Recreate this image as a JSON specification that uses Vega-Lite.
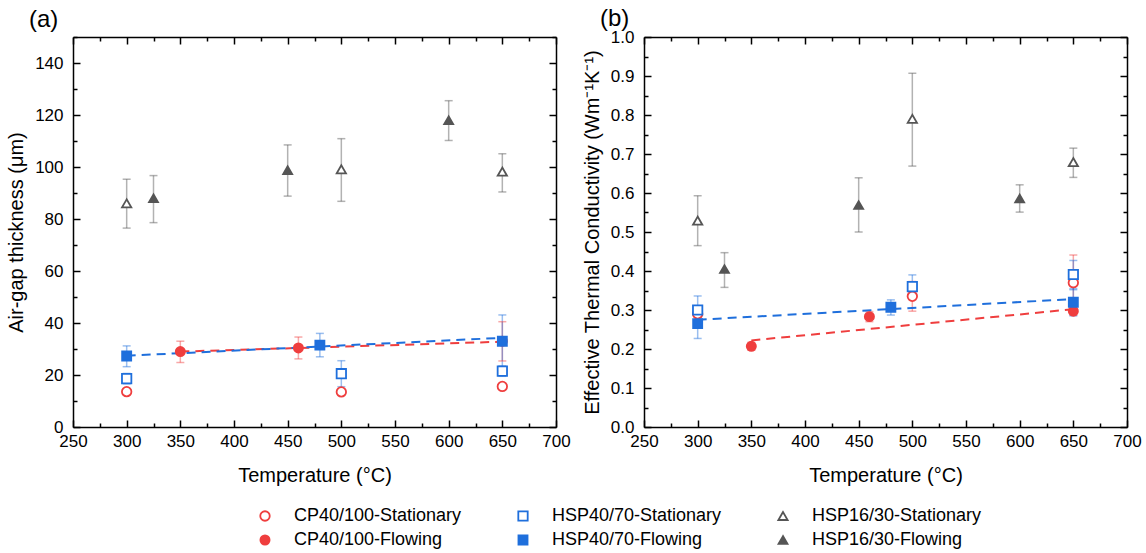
{
  "$schema": "https://vega.github.io/schema/vega-lite/v6.json",
  "padding": {"left": 6, "top": 7, "right": 5, "bottom": 2},
  "background": "white",
  "datasets": {
    "pts": [
      {"p": "a", "g": "CP40/100", "s": "CP40/100-Stationary", "t": 300, "v": 13.6, "lo": 12.6, "hi": 14.6},
      {"p": "a", "g": "CP40/100", "s": "CP40/100-Stationary", "t": 500, "v": 13.5, "lo": 12.5, "hi": 14.5},
      {"p": "a", "g": "CP40/100", "s": "CP40/100-Stationary", "t": 650, "v": 15.6, "lo": 14.6, "hi": 16.6},
      {"p": "a", "g": "CP40/100", "s": "CP40/100-Flowing", "t": 350, "v": 29.0, "lo": 24.8, "hi": 33.0},
      {"p": "a", "g": "CP40/100", "s": "CP40/100-Flowing", "t": 460, "v": 30.4, "lo": 26.2, "hi": 34.6},
      {"p": "a", "g": "CP40/100", "s": "CP40/100-Flowing", "t": 650, "v": 33.0, "lo": 25.4, "hi": 40.5},
      {"p": "a", "g": "HSP40/70", "s": "HSP40/70-Stationary", "t": 300, "v": 18.6, "lo": 16.6, "hi": 20.6},
      {"p": "a", "g": "HSP40/70", "s": "HSP40/70-Stationary", "t": 500, "v": 20.5, "lo": 15.5, "hi": 25.5},
      {"p": "a", "g": "HSP40/70", "s": "HSP40/70-Stationary", "t": 650, "v": 21.5, "lo": 19.5, "hi": 23.5},
      {"p": "a", "g": "HSP40/70", "s": "HSP40/70-Flowing", "t": 300, "v": 27.3, "lo": 23.2, "hi": 31.2},
      {"p": "a", "g": "HSP40/70", "s": "HSP40/70-Flowing", "t": 480, "v": 31.5, "lo": 27.0, "hi": 36.0},
      {"p": "a", "g": "HSP40/70", "s": "HSP40/70-Flowing", "t": 650, "v": 33.0, "lo": 23.0, "hi": 43.1},
      {"p": "a", "g": "HSP16/30", "s": "HSP16/30-Stationary", "t": 300, "v": 86.0, "lo": 76.5, "hi": 95.3},
      {"p": "a", "g": "HSP16/30", "s": "HSP16/30-Stationary", "t": 500, "v": 99.1, "lo": 86.8, "hi": 110.9},
      {"p": "a", "g": "HSP16/30", "s": "HSP16/30-Stationary", "t": 650, "v": 98.2, "lo": 90.4, "hi": 105.1},
      {"p": "a", "g": "HSP16/30", "s": "HSP16/30-Flowing", "t": 325, "v": 88.0, "lo": 78.6, "hi": 96.7},
      {"p": "a", "g": "HSP16/30", "s": "HSP16/30-Flowing", "t": 450, "v": 98.8, "lo": 88.8, "hi": 108.5},
      {"p": "a", "g": "HSP16/30", "s": "HSP16/30-Flowing", "t": 600, "v": 118.0, "lo": 110.2, "hi": 125.5},
      {"p": "b", "g": "CP40/100", "s": "CP40/100-Stationary", "t": 300, "v": 0.29, "lo": 0.27, "hi": 0.31},
      {"p": "b", "g": "CP40/100", "s": "CP40/100-Stationary", "t": 500, "v": 0.335, "lo": 0.297, "hi": 0.373},
      {"p": "b", "g": "CP40/100", "s": "CP40/100-Stationary", "t": 650, "v": 0.37, "lo": 0.30, "hi": 0.441},
      {"p": "b", "g": "CP40/100", "s": "CP40/100-Flowing", "t": 350, "v": 0.207, "lo": 0.197, "hi": 0.217},
      {"p": "b", "g": "CP40/100", "s": "CP40/100-Flowing", "t": 460, "v": 0.283, "lo": 0.27, "hi": 0.296},
      {"p": "b", "g": "CP40/100", "s": "CP40/100-Flowing", "t": 650, "v": 0.297, "lo": 0.287, "hi": 0.307},
      {"p": "b", "g": "HSP40/70", "s": "HSP40/70-Stationary", "t": 300, "v": 0.30, "lo": 0.265, "hi": 0.336},
      {"p": "b", "g": "HSP40/70", "s": "HSP40/70-Stationary", "t": 500, "v": 0.36, "lo": 0.33, "hi": 0.39},
      {"p": "b", "g": "HSP40/70", "s": "HSP40/70-Stationary", "t": 650, "v": 0.391, "lo": 0.352, "hi": 0.427},
      {"p": "b", "g": "HSP40/70", "s": "HSP40/70-Flowing", "t": 300, "v": 0.265, "lo": 0.227, "hi": 0.30},
      {"p": "b", "g": "HSP40/70", "s": "HSP40/70-Flowing", "t": 480, "v": 0.307, "lo": 0.287, "hi": 0.326},
      {"p": "b", "g": "HSP40/70", "s": "HSP40/70-Flowing", "t": 650, "v": 0.32, "lo": 0.285, "hi": 0.355},
      {"p": "b", "g": "HSP16/30", "s": "HSP16/30-Stationary", "t": 300, "v": 0.529, "lo": 0.465, "hi": 0.593},
      {"p": "b", "g": "HSP16/30", "s": "HSP16/30-Stationary", "t": 500, "v": 0.79, "lo": 0.669, "hi": 0.907},
      {"p": "b", "g": "HSP16/30", "s": "HSP16/30-Stationary", "t": 650, "v": 0.679, "lo": 0.64, "hi": 0.715},
      {"p": "b", "g": "HSP16/30", "s": "HSP16/30-Flowing", "t": 325, "v": 0.405, "lo": 0.358, "hi": 0.447},
      {"p": "b", "g": "HSP16/30", "s": "HSP16/30-Flowing", "t": 450, "v": 0.569, "lo": 0.50, "hi": 0.639},
      {"p": "b", "g": "HSP16/30", "s": "HSP16/30-Flowing", "t": 600, "v": 0.586, "lo": 0.551, "hi": 0.621}
    ],
    "fits": [
      {"p": "a", "f": "CP", "t": 350, "v": 29.0},
      {"p": "a", "f": "CP", "t": 650, "v": 32.8},
      {"p": "a", "f": "HSP", "t": 300, "v": 27.4},
      {"p": "a", "f": "HSP", "t": 650, "v": 34.3},
      {"p": "b", "f": "CP", "t": 350, "v": 0.222},
      {"p": "b", "f": "CP", "t": 650, "v": 0.302},
      {"p": "b", "f": "HSP", "t": 300, "v": 0.275},
      {"p": "b", "f": "HSP", "t": 650, "v": 0.328}
    ]
  },
  "config": {
    "font": "Liberation Sans",
    "view": {"stroke": null},
    "axis": {
      "labelFont": "Liberation Sans", "titleFont": "Liberation Sans",
      "labelFontSize": 17, "titleFontSize": 20, "titleFontWeight": "normal",
      "labelColor": "black", "titleColor": "black", "labelFlush": false,
      "domainColor": "black", "domainWidth": 1.5,
      "tickColor": "black", "tickWidth": 1.5, "grid": false
    },
    "legend": {
      "orient": "none", "legendX": 183, "legendY": 470, "direction": "horizontal", "columns": 3, "title": null,
      "columnPadding": 52, "rowPadding": 6, "labelFontSize": 18, "labelFont": "Liberation Sans", "labelColor": "black",
      "labelLimit": 0, "symbolStrokeWidth": 1.8, "labelOffset": 20
    },
    "title": {"font": "Liberation Sans", "fontSize": 24, "fontWeight": "normal", "color": "black"}
  },
  "spacing": 11,
  "resolve": {"scale": {"shape": "shared", "stroke": "shared", "fill": "shared", "size": "shared", "color": "shared"}},
  "hconcat": [
    {
      "width": 483, "height": 390,
      "title": {"text": "(a)", "anchor": "start", "frame": "group", "dx": -44, "offset": 4},
      "resolve": {"axis": {"x": "independent", "y": "independent"}},
      "layer": [
        {
          "data": {"name": "pts"},
          "transform": [{"filter": "datum.p === 'a'"}],
          "mark": {"type": "rule", "strokeWidth": 1.5, "opacity": 0.45},
          "encoding": {
            "x": {"field": "t", "type": "quantitative", "scale": {"domain": [250, 700], "nice": false, "zero": false},
              "axis": {"orient": "bottom", "values": [250,275,300,325,350,375,400,425,450,475,500,525,550,575,600,625,650,675,700],
                "labelExpr": "datum.value % 50 === 0 ? datum.label : ''",
                "tickSize": {"condition": {"test": "datum.value % 50 === 0", "value": -7}, "value": -4},
                "labelPadding": 13, "title": "Temperature (°C)", "titlePadding": 16}},
            "y": {"field": "lo", "type": "quantitative", "scale": {"domain": [0, 150], "nice": false, "zero": false},
              "axis": {"orient": "left", "values": [0,10,20,30,40,50,60,70,80,90,100,110,120,130,140,150],
                "labelExpr": "datum.value % 20 === 0 ? datum.label : ''",
                "tickSize": {"condition": {"test": "datum.value % 20 === 0", "value": -7}, "value": -4},
                "labelPadding": 17, "title": "Air-gap thickness (μm)", "titlePadding": 8}},
            "y2": {"field": "hi"},
            "color": {"field": "g", "type": "nominal", "legend": null,
              "scale": {"domain": ["CP40/100", "HSP40/70", "HSP16/30"], "range": ["#ef3e3e", "#1f6fdc", "#555555"]}}
          }
        },
        {
          "data": {"name": "pts"},
          "transform": [{"filter": "datum.p === 'a'"}],
          "mark": {"type": "tick", "orient": "horizontal", "size": 8, "thickness": 1.5, "opacity": 0.45},
          "encoding": {
            "x": {"field": "t", "type": "quantitative", "axis": null},
            "y": {"field": "lo", "type": "quantitative", "axis": null},
            "color": {"field": "g", "type": "nominal", "legend": null}
          }
        },
        {
          "data": {"name": "pts"},
          "transform": [{"filter": "datum.p === 'a'"}],
          "mark": {"type": "tick", "orient": "horizontal", "size": 8, "thickness": 1.5, "opacity": 0.45},
          "encoding": {
            "x": {"field": "t", "type": "quantitative", "axis": null},
            "y": {"field": "hi", "type": "quantitative", "axis": null},
            "color": {"field": "g", "type": "nominal", "legend": null}
          }
        },
        {
          "data": {"name": "fits"},
          "transform": [{"filter": "datum.p === 'a' && datum.f === 'CP'"}],
          "mark": {"type": "line", "color": "#ef3e3e", "strokeWidth": 2, "strokeDash": [9, 6]},
          "encoding": {
            "x": {"field": "t", "type": "quantitative", "axis": null},
            "y": {"field": "v", "type": "quantitative", "axis": null}
          }
        },
        {
          "data": {"name": "fits"},
          "transform": [{"filter": "datum.p === 'a' && datum.f === 'HSP'"}],
          "mark": {"type": "line", "color": "#1f6fdc", "strokeWidth": 2, "strokeDash": [9, 6]},
          "encoding": {
            "x": {"field": "t", "type": "quantitative", "axis": null},
            "y": {"field": "v", "type": "quantitative", "axis": null}
          }
        },
        {
          "data": {"name": "pts"},
          "transform": [{"filter": "datum.p === 'a'"}],
          "mark": {"type": "point", "filled": true, "strokeWidth": 1.8, "opacity": 1},
          "encoding": {
            "x": {"field": "t", "type": "quantitative",
              "axis": {"orient": "top", "values": [250,275,300,325,350,375,400,425,450,475,500,525,550,575,600,625,650,675,700],
                "labels": false, "title": null,
                "tickSize": {"condition": {"test": "datum.value % 50 === 0", "value": -7}, "value": -4}}},
            "y": {"field": "v", "type": "quantitative",
              "axis": {"orient": "right", "values": [0,10,20,30,40,50,60,70,80,90,100,110,120,130,140,150],
                "labels": false, "title": null,
                "tickSize": {"condition": {"test": "datum.value % 20 === 0", "value": -7}, "value": -4}}},
            "shape": {"field": "s", "type": "nominal",
              "scale": {"domain": ["CP40/100-Stationary", "HSP40/70-Stationary", "HSP16/30-Stationary", "CP40/100-Flowing", "HSP40/70-Flowing", "HSP16/30-Flowing"],
                "range": ["circle", "square", "triangle-up", "circle", "square", "triangle-up"]}},
            "size": {"field": "s", "type": "nominal",
              "scale": {"domain": ["CP40/100-Stationary", "HSP40/70-Stationary", "HSP16/30-Stationary", "CP40/100-Flowing", "HSP40/70-Flowing", "HSP16/30-Flowing"],
                "range": [90, 80, 130, 90, 80, 130]}},
            "stroke": {"field": "s", "type": "nominal",
              "scale": {"domain": ["CP40/100-Stationary", "HSP40/70-Stationary", "HSP16/30-Stationary", "CP40/100-Flowing", "HSP40/70-Flowing", "HSP16/30-Flowing"],
                "range": ["#ef3e3e", "#1f6fdc", "#555555", "#ef3e3e", "#1f6fdc", "#555555"]}},
            "fill": {"field": "s", "type": "nominal",
              "scale": {"domain": ["CP40/100-Stationary", "HSP40/70-Stationary", "HSP16/30-Stationary", "CP40/100-Flowing", "HSP40/70-Flowing", "HSP16/30-Flowing"],
                "range": ["white", "white", "white", "#ef3e3e", "#1f6fdc", "#555555"]}}
          }
        }
      ]
    },
    {
      "width": 483, "height": 390,
      "title": {"text": "(b)", "anchor": "start", "frame": "group", "dx": -44, "dy": 7, "offset": 4},
      "resolve": {"axis": {"x": "independent", "y": "independent"}},
      "layer": [
        {
          "data": {"name": "pts"},
          "transform": [{"filter": "datum.p === 'b'"}],
          "mark": {"type": "rule", "strokeWidth": 1.5, "opacity": 0.45},
          "encoding": {
            "x": {"field": "t", "type": "quantitative", "scale": {"domain": [250, 700], "nice": false, "zero": false},
              "axis": {"orient": "bottom", "values": [250,275,300,325,350,375,400,425,450,475,500,525,550,575,600,625,650,675,700],
                "labelExpr": "datum.value % 50 === 0 ? datum.label : ''",
                "tickSize": {"condition": {"test": "datum.value % 50 === 0", "value": -7}, "value": -4},
                "labelPadding": 13, "title": "Temperature (°C)", "titlePadding": 16}},
            "y": {"field": "lo", "type": "quantitative", "scale": {"domain": [0, 1], "nice": false, "zero": false},
              "axis": {"orient": "left", "values": [0,0.05,0.1,0.15,0.2,0.25,0.3,0.35,0.4,0.45,0.5,0.55,0.6,0.65,0.7,0.75,0.8,0.85,0.9,0.95,1],
                "format": ".1f",
                "labelExpr": "round(datum.value * 100) % 10 === 0 ? datum.label : ''",
                "tickSize": {"condition": {"test": "round(datum.value * 100) % 10 === 0", "value": -7}, "value": -4},
                "labelPadding": 17, "title": "Effective Thermal Conductivity (Wm⁻¹K⁻¹)", "titlePadding": 8}},
            "y2": {"field": "hi"},
            "color": {"field": "g", "type": "nominal", "legend": null}
          }
        },
        {
          "data": {"name": "pts"},
          "transform": [{"filter": "datum.p === 'b'"}],
          "mark": {"type": "tick", "orient": "horizontal", "size": 8, "thickness": 1.5, "opacity": 0.45},
          "encoding": {
            "x": {"field": "t", "type": "quantitative", "axis": null},
            "y": {"field": "lo", "type": "quantitative", "axis": null},
            "color": {"field": "g", "type": "nominal", "legend": null}
          }
        },
        {
          "data": {"name": "pts"},
          "transform": [{"filter": "datum.p === 'b'"}],
          "mark": {"type": "tick", "orient": "horizontal", "size": 8, "thickness": 1.5, "opacity": 0.45},
          "encoding": {
            "x": {"field": "t", "type": "quantitative", "axis": null},
            "y": {"field": "hi", "type": "quantitative", "axis": null},
            "color": {"field": "g", "type": "nominal", "legend": null}
          }
        },
        {
          "data": {"name": "fits"},
          "transform": [{"filter": "datum.p === 'b' && datum.f === 'CP'"}],
          "mark": {"type": "line", "color": "#ef3e3e", "strokeWidth": 2, "strokeDash": [9, 6]},
          "encoding": {
            "x": {"field": "t", "type": "quantitative", "axis": null},
            "y": {"field": "v", "type": "quantitative", "axis": null}
          }
        },
        {
          "data": {"name": "fits"},
          "transform": [{"filter": "datum.p === 'b' && datum.f === 'HSP'"}],
          "mark": {"type": "line", "color": "#1f6fdc", "strokeWidth": 2, "strokeDash": [9, 6]},
          "encoding": {
            "x": {"field": "t", "type": "quantitative", "axis": null},
            "y": {"field": "v", "type": "quantitative", "axis": null}
          }
        },
        {
          "data": {"name": "pts"},
          "transform": [{"filter": "datum.p === 'b'"}],
          "mark": {"type": "point", "filled": true, "strokeWidth": 1.8, "opacity": 1},
          "encoding": {
            "x": {"field": "t", "type": "quantitative",
              "axis": {"orient": "top", "values": [250,275,300,325,350,375,400,425,450,475,500,525,550,575,600,625,650,675,700],
                "labels": false, "title": null,
                "tickSize": {"condition": {"test": "datum.value % 50 === 0", "value": -7}, "value": -4}}},
            "y": {"field": "v", "type": "quantitative",
              "axis": {"orient": "right", "values": [0,0.05,0.1,0.15,0.2,0.25,0.3,0.35,0.4,0.45,0.5,0.55,0.6,0.65,0.7,0.75,0.8,0.85,0.9,0.95,1],
                "labels": false, "title": null,
                "tickSize": {"condition": {"test": "round(datum.value * 100) % 10 === 0", "value": -7}, "value": -4}}},
            "shape": {"field": "s", "type": "nominal"},
            "size": {"field": "s", "type": "nominal"},
            "stroke": {"field": "s", "type": "nominal"},
            "fill": {"field": "s", "type": "nominal"}
          }
        }
      ]
    }
  ]
}
